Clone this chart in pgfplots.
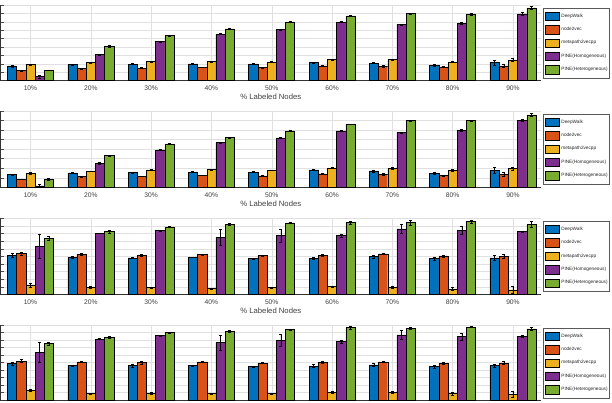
\documentclass[border=0pt]{standalone}
\usepackage{pgfplots}
\pgfplotsset{compat=1.18}
\usepackage{pgfplotstable}
\usepackage{fontspec}
\setmainfont{Liberation Sans}

\definecolor{cDW}{rgb}{0,0.447,0.741}
\definecolor{cNV}{rgb}{0.85,0.325,0.098}
\definecolor{cMP}{rgb}{0.929,0.694,0.125}
\definecolor{cPH}{rgb}{0.494,0.184,0.556}
\definecolor{cPT}{rgb}{0.466,0.674,0.188}

% columns: mean and spread for each method
\pgfplotstableread{
x dw dwe nv nve mp mpe ph phe pt pte
1 1.75 0.12 1.19 0.06 1.90 0.10 0.48 0.18 1.27 0.03
2 1.94 0.06 1.47 0.05 2.18 0.06 3.13 0.07 4.09 0.07
3 1.98 0.05 1.50 0.05 2.30 0.05 4.64 0.08 5.40 0.06
4 2.00 0.05 1.60 0.05 2.30 0.05 5.55 0.08 6.15 0.07
5 2.00 0.05 1.55 0.05 2.25 0.05 6.10 0.06 7.00 0.05
6 2.15 0.05 1.75 0.05 2.50 0.06 6.95 0.06 7.70 0.05
7 2.10 0.08 1.70 0.08 2.50 0.10 6.70 0.07 8.00 0.07
8 1.83 0.07 1.63 0.06 2.22 0.08 6.83 0.10 7.94 0.10
9 2.14 0.25 1.75 0.20 2.46 0.15 7.94 0.20 8.65 0.20
}\tabA

\pgfplotstableread{
x dw dwe nv nve mp mpe ph phe pt pte
1 1.33 0.08 0.84 0.04 1.47 0.07 0.14 0.15 0.84 0.10
2 1.50 0.05 1.12 0.04 1.68 0.04 2.52 0.06 3.32 0.04
3 1.57 0.05 1.15 0.04 1.82 0.04 3.92 0.06 4.55 0.05
4 1.60 0.05 1.26 0.04 1.85 0.06 4.69 0.07 5.24 0.06
5 1.60 0.05 1.19 0.05 1.78 0.04 5.17 0.04 5.91 0.04
6 1.82 0.06 1.40 0.06 2.03 0.04 5.91 0.06 6.60 0.03
7 1.71 0.10 1.36 0.10 1.99 0.12 5.73 0.06 6.99 0.06
8 1.43 0.10 1.22 0.08 1.78 0.10 5.94 0.10 6.99 0.08
9 1.78 0.30 1.36 0.25 1.99 0.15 7.03 0.15 7.59 0.15
}\tabB

\pgfplotstableread{
x dw dwe nv nve mp mpe ph phe pt pte
1 5.09 0.25 5.39 0.20 1.23 0.25 6.32 1.55 7.37 0.30
2 4.87 0.08 5.26 0.08 0.92 0.10 8.03 0.05 8.25 0.20
3 4.78 0.10 5.13 0.10 0.88 0.08 8.38 0.06 8.86 0.08
4 4.87 0.06 5.26 0.06 0.79 0.06 7.50 1.00 9.21 0.15
5 4.69 0.06 5.09 0.06 0.92 0.06 7.76 0.85 9.39 0.06
6 4.74 0.15 5.13 0.12 1.00 0.10 7.72 0.20 9.47 0.20
7 4.96 0.20 5.31 0.06 0.96 0.12 8.60 0.60 9.43 0.30
8 4.69 0.25 5.04 0.12 0.70 0.20 8.46 0.50 9.56 0.15
9 4.78 0.35 5.00 0.25 0.57 0.45 8.25 0.06 9.21 0.35
}\tabC

\pgfplotstableread{
x dw dwe nv nve mp mpe ph phe pt pte
1 4.89 0.20 5.20 0.20 1.33 0.15 6.36 1.30 7.56 0.20
2 4.62 0.06 5.07 0.06 0.89 0.06 8.13 0.06 8.36 0.08
3 4.58 0.15 4.98 0.15 0.89 0.10 8.58 0.06 8.98 0.06
4 4.62 0.06 5.07 0.06 0.84 0.06 7.69 1.00 9.20 0.10
5 4.49 0.06 4.93 0.06 0.84 0.06 7.91 0.80 9.42 0.06
6 4.53 0.20 5.02 0.15 1.02 0.15 7.78 0.15 9.64 0.15
7 4.67 0.20 5.07 0.06 1.02 0.12 8.67 0.60 9.56 0.10
8 4.44 0.20 4.89 0.15 0.84 0.20 8.44 0.50 9.73 0.06
9 4.58 0.25 4.93 0.20 0.71 0.40 8.53 0.15 9.47 0.20
}\tabD

\pgfplotsset{
  panel/.style={
    scale only axis, width=541pt,
    xmin=0.5, xmax=9.47, ymin=0,
    ybar,
    axis x line*=bottom, axis y line*=left,
    axis line style={black!80, line width=0.5pt},
    xtick={1,...,9},
    xticklabels={10\%,20\%,30\%,40\%,50\%,60\%,70\%,80\%,90\%},
    yticklabels={},
    tick align=inside, major tick length=4pt,
    tick style={black!70, line width=0.4pt},
    xmajorgrids, ymajorgrids,
    grid style={black!12, line width=0.4pt},
    xticklabel style={font=\fontsize{6.7}{7}\selectfont, text=black!75, anchor=center, yshift=-7.5pt},
    xlabel style={font=\fontsize{7.7}{8}\selectfont, text=black!75, at={(axis description cs:0.5,0)}, anchor=center, yshift=-16.3pt},
    legend style={at={(axis description cs:1,1)}, anchor=north west, xshift=1.5pt, yshift=-2.5pt,
      draw=black!65, line width=0.4pt, fill=white,
      inner xsep=2pt, inner ysep=4pt, row sep=4.6pt,
      font=\fontsize{4.7}{5}\selectfont, text=black!85,
      nodes={inner sep=0pt, anchor=west}},
    legend cell align=left,
    /tikz/every odd column/.append style={column sep=2pt},
    legend image code/.code={\draw[#1,draw=black,line width=0.4pt] (0pt,-4.2pt) rectangle (14pt,4.2pt);},
  },
  mbar/.style={draw=black, line width=0.45pt, bar width=9.2pt,
    error bars/.cd, y dir=both, y explicit,
    error bar style={black, line width=0.5pt},
    error mark options={black, rotate=90, mark size=1.5pt, line width=0.5pt}},
}

\newcommand{\methods}[1]{%
  \addplot[fill=cDW, bar shift=-18.4pt, mbar] table[x=x, y=dw, y error=dwe] {#1};
  \addplot[fill=cNV, bar shift=-9.2pt, mbar] table[x=x, y=nv, y error=nve] {#1};
  \addplot[fill=cMP, bar shift=0pt, mbar] table[x=x, y=mp, y error=mpe] {#1};
  \addplot[fill=cPH, bar shift=9.2pt, mbar] table[x=x, y=ph, y error=phe] {#1};
  \addplot[fill=cPT, bar shift=18.4pt, mbar] table[x=x, y=pt, y error=pte] {#1};
  \legend{DeepWalk,node2vec,metapath2vecpp,PINE(Homogeneous),PINE(Heterogeneous)}
}

\begin{document}
\begin{tikzpicture}
\useasboundingbox (0,0) rectangle (612pt,402pt);
\clip (0,0) rectangle (612pt,402pt);

\begin{axis}[panel, at={(0.3pt,321.3pt)}, anchor=south west, height=75.7pt,
  ymax=9, ytick={0,1,...,9}, xlabel={\% Labeled Nodes}]
  \methods{\tabA}
\end{axis}

\begin{axis}[panel, at={(0.3pt,214.7pt)}, anchor=south west, height=76.3pt,
  ymax=8, ytick={0,1,...,8}, xlabel={\% Labeled Nodes}]
  \methods{\tabB}
\end{axis}

\begin{axis}[panel, at={(0.3pt,107.7pt)}, anchor=south west, height=76pt,
  ymax=10, ytick={0,1,...,10}, xlabel={\% Labeled Nodes}]
  \methods{\tabC}
\end{axis}

% bottom panel: its labels fall below the page edge
\begin{axis}[panel, at={(0.3pt,2pt)}, anchor=south west, height=75pt,
  ymax=10, ytick={0,1,...,10}, xticklabels={}]
  \methods{\tabD}
\end{axis}
\end{tikzpicture}
\end{document}
